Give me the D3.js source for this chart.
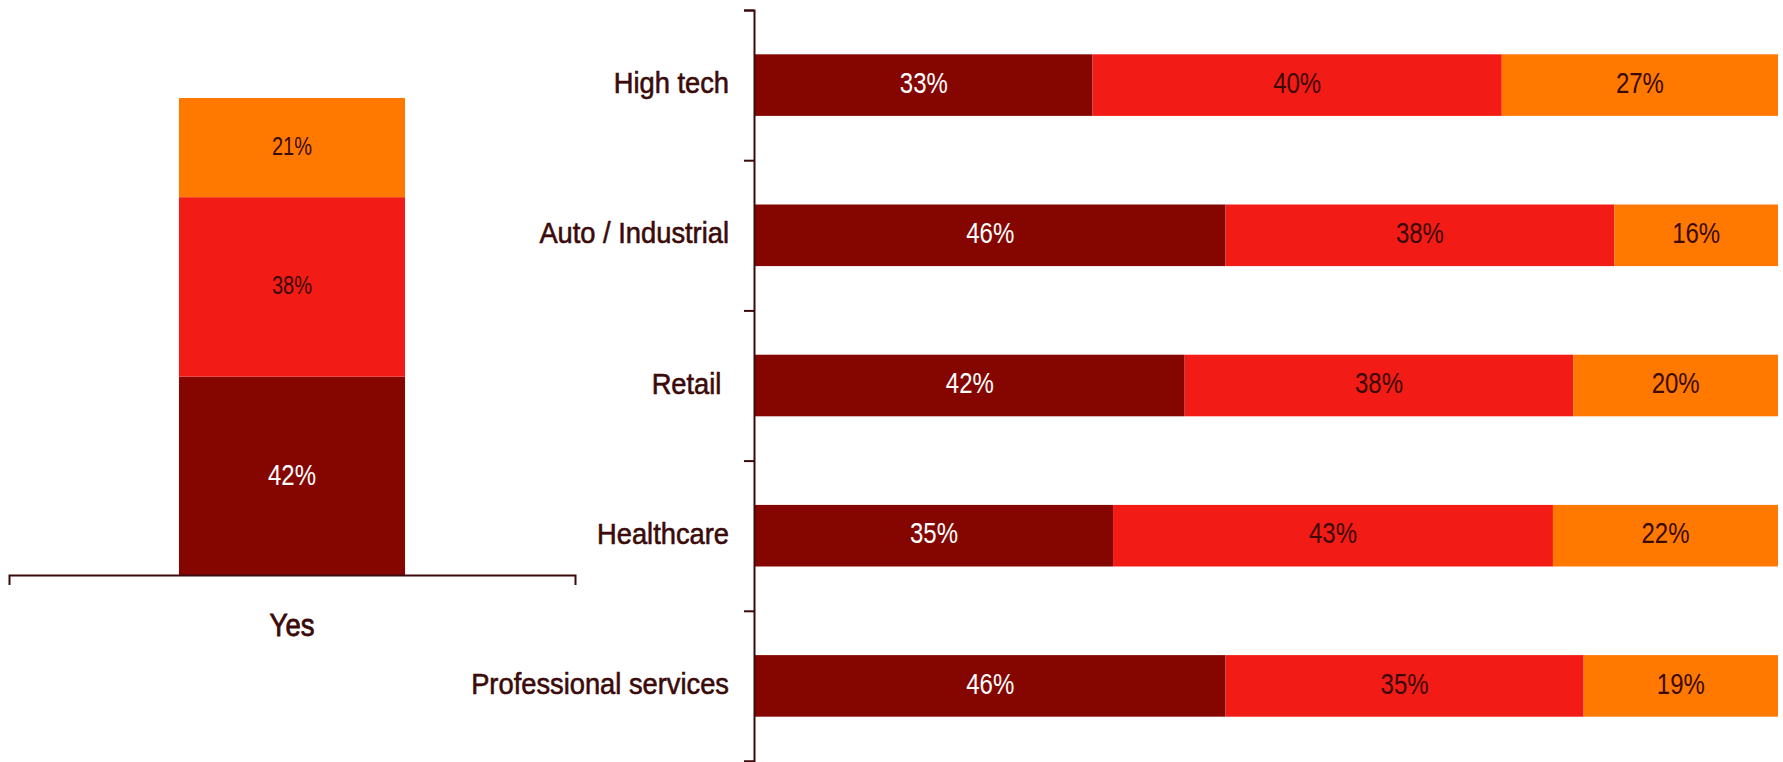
<!DOCTYPE html>
<html>
<head>
<meta charset="utf-8">
<script src="https://cdn.jsdelivr.net/npm/d3@7"></script>
<style>
  html, body { margin: 0; padding: 0; background: #ffffff; }
  svg { display: block; }
  text { font-family: "Liberation Sans", Arial, sans-serif; }
</style>
</head>
<body>
<svg id="chart" width="1783" height="762"></svg>
<script>
// Overall answer (single stacked column)
const overallCategories = ["Yes"];
const overallDark   = [42];
const overallRed    = [38];
const overallOrange = [21];

// Breakdown by industry (100% stacked rows)
const industries   = ["High tech", "Auto / Industrial", "Retail ", "Healthcare", "Professional services"];
const industryDark   = [33, 46, 42, 35, 46];
const industryRed    = [40, 38, 38, 43, 35];
const industryOrange = [27, 16, 20, 22, 19];

const seriesKeys = ["dark", "red", "orange"];
const colors = { dark: "#850600", red: "#f31b15", orange: "#ff7900" };
const textOnColor = { dark: "#ffffff", red: "#3a0a05", orange: "#3a0a05" };
const inkColor = "#3b0a0a";
const fmt = v => v + "%";

// Horizontal squeeze that gives the text a condensed face
const valueSqueeze = 0.8;
const labelSqueeze = 0.91;
const yesSqueeze = 0.86;

// Condense a text element horizontally while keeping its anchor point
function condense(sel, sx) {
  sel.each(function () {
    const t = d3.select(this);
    const x = +t.attr("x") || 0;
    t.attr("x", x / sx).attr("transform", `scale(${sx},1)`);
  });
}

const svg = d3.select("#chart");

// ---------- Left: single stacked column ----------
const overallRows = overallCategories.map((c, i) => ({
  category: c, dark: overallDark[i], red: overallRed[i], orange: overallOrange[i]
}));
const overallStack = d3.stack().keys(seriesKeys)(overallRows);
const overallTotal = d3.max(overallRows, r => r.dark + r.red + r.orange);

const xL = d3.scaleBand().domain(overallCategories).range([9, 575])
  .paddingInner(0.4292).paddingOuter(0.4292);
const yL = d3.scaleLinear().domain([0, overallTotal]).range([575, 98]);

const left = svg.append("g");
const leftLayers = left.selectAll("g.layer").data(overallStack).join("g")
  .attr("fill", d => colors[d.key]);
leftLayers.selectAll("rect").data(d => d.map(p => ({ p, key: d.key }))).join("rect")
  .attr("x", d => xL(d.p.data.category))
  .attr("width", xL.bandwidth())
  .attr("y", d => yL(d.p[1]))
  .attr("height", d => yL(d.p[0]) - yL(d.p[1]));
leftLayers.selectAll("text").data(d => d.map(p => ({ p, key: d.key }))).join("text")
  .attr("x", d => xL(d.p.data.category) + xL.bandwidth() / 2)
  .attr("y", d => (yL(d.p[0]) + yL(d.p[1])) / 2)
  .attr("dy", "0.3em")
  .attr("text-anchor", "middle")
  .attr("fill", d => textOnColor[d.key])
  .style("font-size", d => d.key === "dark" ? "30px" : "25px")
  .text(d => fmt(d.p.data[d.key]))
  .call(condense, valueSqueeze);

const leftAxis = left.append("g")
  .attr("transform", "translate(0,575)")
  .call(d3.axisBottom(xL).tickSizeInner(0).tickSizeOuter(10).tickPadding(61));
leftAxis.select(".domain").attr("stroke", inkColor).attr("stroke-width", 2);
leftAxis.selectAll(".tick text")
  .attr("fill", inkColor)
  .attr("stroke", inkColor)
  .attr("stroke-width", 0.8)
  .attr("dy", 0)
  .style("font-size", "32px")
  .call(condense, yesSqueeze);

// ---------- Right: horizontal 100% stacked bars ----------
const industryRows = industries.map((c, i) => ({
  category: c, dark: industryDark[i], red: industryRed[i], orange: industryOrange[i]
}));
const industryStack = d3.stack().keys(seriesKeys)(industryRows);

const yR = d3.scaleBand().domain(industries).range([10, 761])
  .paddingInner(0.59).paddingOuter(0.295);
const xR = d3.scaleLinear().domain([0, 100]).range([755, 1778]);

const right = svg.append("g");
const rightLayers = right.selectAll("g.layer").data(industryStack).join("g")
  .attr("fill", d => colors[d.key]);
rightLayers.selectAll("rect").data(d => d.map(p => ({ p, key: d.key }))).join("rect")
  .attr("y", d => yR(d.p.data.category))
  .attr("height", yR.bandwidth())
  .attr("x", d => xR(d.p[0]))
  .attr("width", d => xR(d.p[1]) - xR(d.p[0]));
rightLayers.selectAll("text").data(d => d.map(p => ({ p, key: d.key }))).join("text")
  .attr("x", d => (xR(d.p[0]) + xR(d.p[1])) / 2)
  .attr("y", d => yR(d.p.data.category) + yR.bandwidth() / 2)
  .attr("dy", "0.26em")
  .attr("text-anchor", "middle")
  .attr("fill", d => textOnColor[d.key])
  .style("font-size", "30px")
  .text(d => fmt(d.p.data[d.key]))
  .call(condense, valueSqueeze);

// Boundary ticks between categories along the vertical axis
const boundary = d3.scaleLinear().domain([0, industries.length]).range(yR.range());
const boundaryAxis = right.append("g")
  .attr("transform", "translate(754,0)")
  .call(d3.axisLeft(boundary).tickValues(d3.range(industries.length + 1))
    .tickSize(10).tickSizeOuter(10).tickFormat(""));
boundaryAxis.select(".domain").attr("stroke", inkColor).attr("stroke-width", 2);
boundaryAxis.selectAll(".tick line").attr("stroke", inkColor).attr("stroke-width", 2);

// Category labels
const catAxis = right.append("g")
  .attr("transform", "translate(754,0)")
  .call(d3.axisLeft(yR).tickSize(0).tickPadding(25));
catAxis.select(".domain").remove();
catAxis.selectAll(".tick text")
  .attr("fill", inkColor)
  .attr("stroke", inkColor)
  .attr("stroke-width", 0.6)
  .attr("dy", "0.27em")
  .style("font-size", "30px")
  .style("white-space", "pre")
  .call(condense, labelSqueeze);
</script>
</body>
</html>
